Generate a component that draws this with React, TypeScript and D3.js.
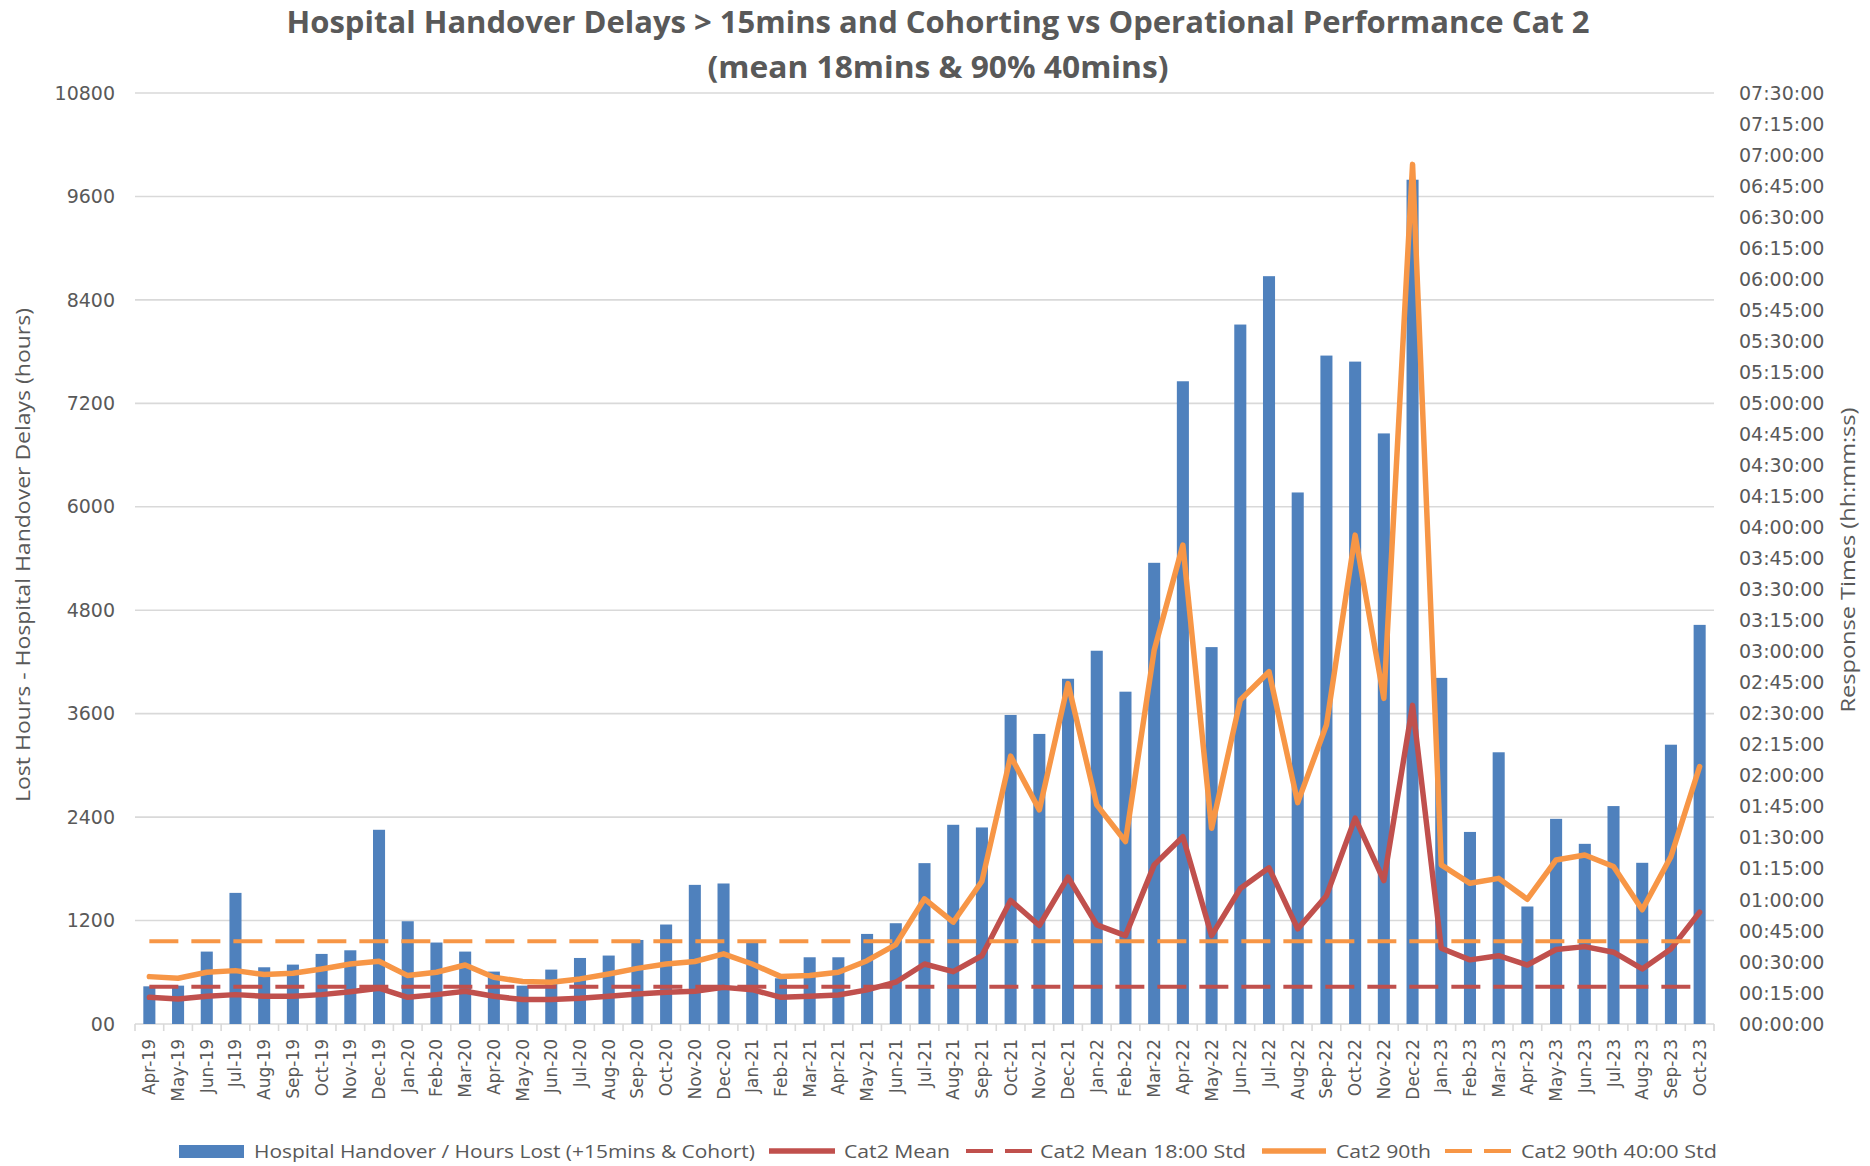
import React from 'react'
import * as d3 from 'd3'

// months on the category axis
const months = [
  'Apr-19', 'May-19', 'Jun-19', 'Jul-19', 'Aug-19', 'Sep-19', 'Oct-19', 'Nov-19', 'Dec-19',
  'Jan-20', 'Feb-20', 'Mar-20', 'Apr-20', 'May-20', 'Jun-20', 'Jul-20', 'Aug-20', 'Sep-20', 'Oct-20', 'Nov-20', 'Dec-20',
  'Jan-21', 'Feb-21', 'Mar-21', 'Apr-21', 'May-21', 'Jun-21', 'Jul-21', 'Aug-21', 'Sep-21', 'Oct-21', 'Nov-21', 'Dec-21',
  'Jan-22', 'Feb-22', 'Mar-22', 'Apr-22', 'May-22', 'Jun-22', 'Jul-22', 'Aug-22', 'Sep-22', 'Oct-22', 'Nov-22', 'Dec-22',
  'Jan-23', 'Feb-23', 'Mar-23', 'Apr-23', 'May-23', 'Jun-23', 'Jul-23', 'Aug-23', 'Sep-23', 'Oct-23',
]

// lost hours (bars, left axis)
const hoursLost = [
  437, 445, 840, 1521, 658, 689, 813, 855, 2253,
  1192, 945, 840, 608, 445, 631, 766, 794, 975, 1154, 1614, 1630,
  941, 530, 774, 774, 1045, 1169, 1866, 2311, 2280, 3585, 3365, 4005,
  4330, 3855, 5350, 7456, 4372, 8114, 8675, 6166, 7754, 7684, 6851, 9794,
  4015, 2228, 3152, 1363, 2380, 2090, 2528, 1870, 3240, 4630,
]

// response times in minutes (right axis)
const cat2Mean = [
  12.9, 12.1, 13.4, 14.2, 13.4, 13.4, 14.2, 15.6, 17.3,
  12.9, 14.2, 15.8, 13.4, 11.8, 11.8, 12.4, 13.4, 14.5, 15.3, 15.8, 17.7,
  16.6, 12.9, 13.4, 14.0, 16.5, 20.2, 29.0, 25.3, 33.0, 59.7, 47.6, 71.0,
  47.9, 42.7, 76.9, 90.5, 42.7, 65.5, 75.5, 46.0, 62.0, 99.5, 69.3, 154.0,
  36.6, 31.0, 33.0, 28.5, 36.0, 37.4, 34.7, 26.6, 36.3, 54.0,
]
const cat2Ninetieth = [
  22.9, 22.1, 25.0, 25.8, 23.9, 24.5, 26.6, 29.0, 30.3,
  23.4, 25.0, 28.5, 22.6, 20.5, 20.2, 21.8, 24.2, 26.9, 29.0, 30.2, 33.9,
  29.0, 22.9, 23.4, 25.0, 30.6, 38.4, 60.5, 49.2, 69.0, 129.5, 103.5, 164.5,
  105.9, 88.2, 180.7, 231.5, 94.6, 156.6, 170.3, 107.0, 144.5, 236.3, 157.4, 415.5,
  76.9, 68.0, 70.4, 60.3, 79.3, 81.7, 76.1, 55.2, 80.9, 124.4,
]
const meanStandard = 18
const ninetiethStandard = 40

const leftTicks = [0, 1200, 2400, 3600, 4800, 6000, 7200, 8400, 9600, 10800]
const rightTicks = d3.range(0, 451, 15) // minutes

const BLUE = '#4F81BD'
const RED = '#C0504D'
const ORANGE = '#F79646'
const GRID = '#D9D9D9'
const TEXT = '#595959'

const W = 1870
const H = 1166
const left = 135
const right = 1714
const top = 93
const bottom = 1024

const fmtTime = (m: number) => {
  const h = Math.floor(m / 60)
  const mm = m % 60
  return `${String(h).padStart(2, '0')}:${String(mm).padStart(2, '0')}:00`
}

export default function App() {
  const x = d3.scaleBand<string>().domain(months).range([left, right]).paddingInner(0.58).paddingOuter(0.29)
  const yL = d3.scaleLinear().domain([0, 10800]).range([bottom, top])
  const yR = d3.scaleLinear().domain([0, 450]).range([bottom, top])
  const cx = (m: string) => (x(m) as number) + x.bandwidth() / 2
  const step = x.step()

  const line = d3.line<number>()
    .x((_, i) => cx(months[i]))
    .y(d => yR(d))

  const meanStd = months.map(() => meanStandard)
  const ninetyStd = months.map(() => ninetiethStandard)

  const axisFont = 'DejaVu Sans, Verdana, sans-serif'
  const labelFont = 'Open Sans, sans-serif'

  return (
    <svg width={W} height={H} style={{ position: 'absolute', left: 0, top: 0, display: 'block', background: '#fff' }}>
      {/* title */}
      <text x={938} y={33} textAnchor="middle" fontFamily={labelFont} fontWeight="bold" fontSize={31}
        fill={TEXT} textLength={1303} lengthAdjust="spacingAndGlyphs">
        Hospital Handover Delays &gt; 15mins and Cohorting vs Operational Performance Cat 2
      </text>
      <text x={938} y={78} textAnchor="middle" fontFamily={labelFont} fontWeight="bold" fontSize={31}
        fill={TEXT} textLength={461} lengthAdjust="spacingAndGlyphs">
        (mean 18mins &amp; 90% 40mins)
      </text>

      {/* gridlines + left ticks */}
      {leftTicks.map(t => (
        <g key={t}>
          <line x1={left} x2={right} y1={yL(t)} y2={yL(t)} stroke={GRID} strokeWidth={1.6} />
          <text x={115} y={yL(t)} dy="0.35em" textAnchor="end" fontFamily={axisFont} fontSize={19} fill={TEXT}>
            {t === 0 ? '00' : t}
          </text>
        </g>
      ))}

      {/* right ticks */}
      {rightTicks.map(t => (
        <text key={t} x={1739} y={yR(t)} dy="0.35em" fontFamily={axisFont} fontSize={19} fill={TEXT}>
          {fmtTime(t)}
        </text>
      ))}

      {/* category tick marks */}
      {d3.range(months.length + 1).map(i => (
        <line key={i} x1={left + i * step} x2={left + i * step} y1={bottom} y2={bottom + 7} stroke={GRID} strokeWidth={1.6} />
      ))}

      {/* bars */}
      {months.map((m, i) => (
        <rect key={m} x={x(m)} y={yL(hoursLost[i])} width={x.bandwidth()} height={bottom - yL(hoursLost[i])} fill={BLUE} />
      ))}

      {/* lines */}
      <path d={line(cat2Mean) || ''} fill="none" stroke={RED} strokeWidth={5.5} strokeLinejoin="round" strokeLinecap="round" />
      <path d={line(meanStd) || ''} fill="none" stroke={RED} strokeWidth={4} strokeDasharray="29 13" />
      <path d={line(cat2Ninetieth) || ''} fill="none" stroke={ORANGE} strokeWidth={5.5} strokeLinejoin="round" strokeLinecap="round" />
      <path d={line(ninetyStd) || ''} fill="none" stroke={ORANGE} strokeWidth={4} strokeDasharray="29 13" />

      {/* x labels */}
      {months.map(m => (
        <text key={m} transform={`translate(${cx(m) + 6},${1039}) rotate(-90)`} textAnchor="end"
          fontFamily={axisFont} fontSize={17} fill={TEXT}>
          {m}
        </text>
      ))}

      {/* axis titles */}
      <text transform="translate(30,555) rotate(-90)" textAnchor="middle" fontFamily={labelFont} fontSize={20}
        fill={TEXT} textLength={494} lengthAdjust="spacingAndGlyphs">
        Lost Hours - Hospital Handover Delays (hours)
      </text>
      <text transform="translate(1855,560) rotate(-90)" textAnchor="middle" fontFamily={labelFont} fontSize={20}
        fill={TEXT} textLength={305} lengthAdjust="spacingAndGlyphs">
        Response Times  (hh:mm:ss)
      </text>

      {/* legend */}
      <g fontFamily={labelFont} fontSize={19} fill={TEXT}>
        <rect x={179} y={1145} width={65} height={13} fill={BLUE} />
        <text x={254} y={1158} textLength={501} lengthAdjust="spacingAndGlyphs">Hospital Handover / Hours Lost (+15mins &amp; Cohort)</text>
        <line x1={769} x2={835} y1={1151} y2={1151} stroke={RED} strokeWidth={5.5} />
        <text x={844} y={1158} textLength={106} lengthAdjust="spacingAndGlyphs">Cat2 Mean</text>
        <line x1={966} x2={1032} y1={1151} y2={1151} stroke={RED} strokeWidth={4} strokeDasharray="27 12" />
        <text x={1040} y={1158} textLength={206} lengthAdjust="spacingAndGlyphs">Cat2 Mean 18:00 Std</text>
        <line x1={1262} x2={1326} y1={1151} y2={1151} stroke={ORANGE} strokeWidth={5.5} />
        <text x={1336} y={1158} textLength={95} lengthAdjust="spacingAndGlyphs">Cat2 90th</text>
        <line x1={1445} x2={1512} y1={1151} y2={1151} stroke={ORANGE} strokeWidth={4} strokeDasharray="27 12" />
        <text x={1521} y={1158} textLength={196} lengthAdjust="spacingAndGlyphs">Cat2 90th 40:00 Std</text>
      </g>
    </svg>
  )
}
